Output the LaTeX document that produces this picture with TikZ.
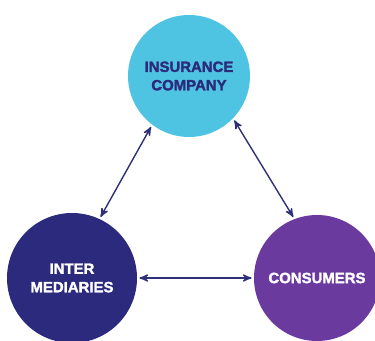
\documentclass[tikz,border=0pt]{standalone}
\usepackage{fontspec}
\setmainfont{Liberation Sans}[BoldFeatures={FakeBold=1.8}]
\usepackage{tikz}
\usetikzlibrary{arrows,positioning}

\definecolor{insblue}{HTML}{4EC4E2}
\definecolor{navy}{HTML}{2C2A7C}
\definecolor{consviolet}{HTML}{6B3A9F}
\definecolor{arrownavy}{HTML}{2F3178}

\begin{document}
\begin{tikzpicture}[<->,>=stealth',shorten >=1pt,shorten <=1pt,x=0.02cm,y=0.02cm,
	                    thick]
	  \tikzstyle{every node}=[circle,inner sep=0pt,align=center,font=\fontsize{8.5}{10.5}\selectfont\bfseries]
	  \useasboundingbox (0,0) rectangle (375,341);

	  \node[fill=insblue,text=navy,minimum size=122*0.02cm]       (Insurer)   at (189,265) {INSURANCE\\COMPANY};
	  \node[fill=navy,text=white,minimum size=130*0.02cm]         (Inter)     at (72,63)   {INTER\\MEDIARIES};
	  \node[fill=consviolet,text=white,minimum size=126*0.02cm]   (Consumers) at (317,63)  {CONSUMERS};

	  \draw[arrownavy] (Insurer.233) -- (Inter.65);
	  \draw[arrownavy] (Insurer.316) -- (Consumers.111);
	  \draw[arrownavy] (Inter.east) -- (Consumers.west);
	\end{tikzpicture}
\end{document}
